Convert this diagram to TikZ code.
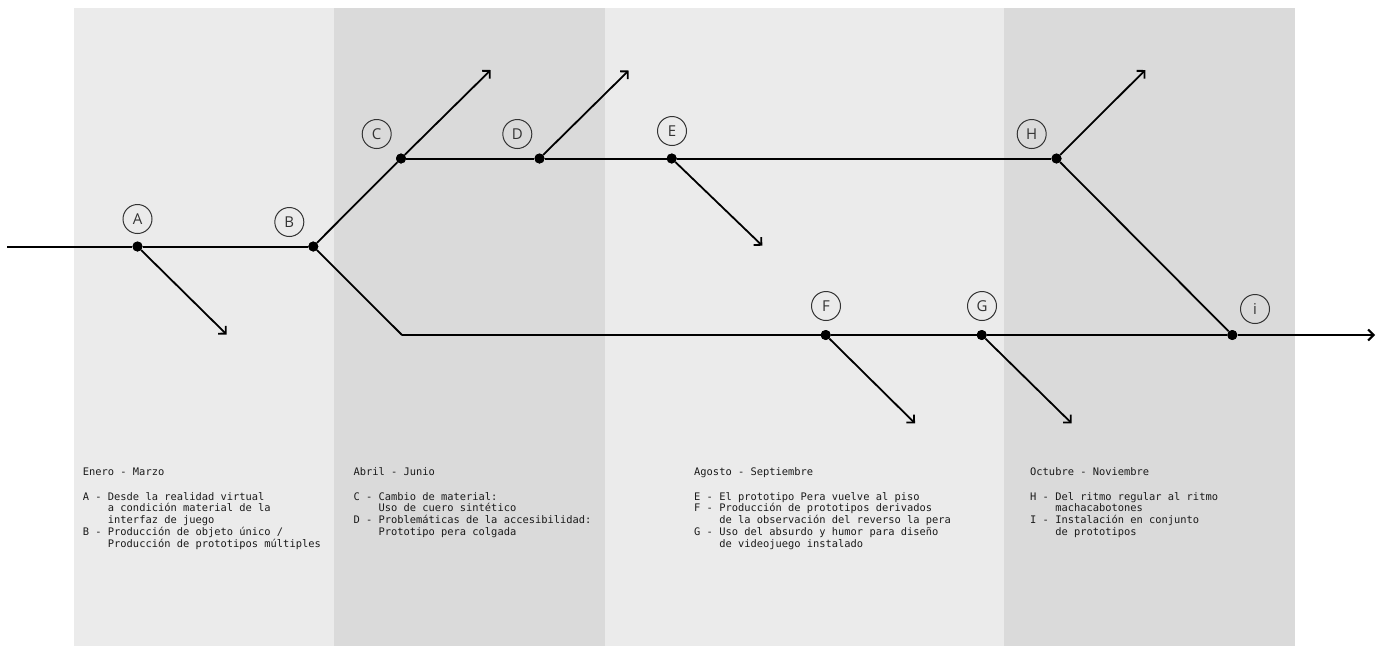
\documentclass[tikz,border=0pt]{standalone}
\usepackage{fontspec}
\setmonofont{DejaVu Sans Mono}
\newfontfamily\tagfont{Open Sans}
\usetikzlibrary{arrows.meta}
\definecolor{bandlight}{HTML}{EBEBEB}
\definecolor{banddark}{HTML}{DADADA}
\definecolor{ink}{HTML}{1A1A1A}
\definecolor{tagink}{HTML}{333333}
\begin{document}
\begin{tikzpicture}[x=1pt,y=-1pt,
  dot/.style={circle,fill=black,inner sep=0pt,minimum size=10pt},
  tag/.style={circle,draw=tagink,line width=1pt,inner sep=0pt,minimum size=29pt,
    text=tagink,font=\tagfont\fontsize{15}{15}\selectfont},
  spine/.style={line width=2pt,draw=black},
  branch/.style={line width=1.8pt,draw=black},
  tip/.style={-{Straight Barb[length=5.5pt,width=11pt]}},
  notes/.style={anchor=base west,inner sep=0pt,text=ink,
    font=\ttfamily\fontsize{10.4}{11.8}\selectfont}]

\useasboundingbox (0,0) rectangle (1380,646);

% quarter bands
\fill[bandlight] (74,8) rectangle (334,646);
\fill[banddark] (334,8) rectangle (605,646);
\fill[bandlight] (605,8) rectangle (1004,646);
\fill[banddark] (1004,8) rectangle (1295,646);

% milestones
\node[dot] (A) at (137.5,246.5) {};
\node[dot] (B) at (313.3,246.5) {};
\node[dot] (C) at (401,158.5) {};
\node[dot] (D) at (539.5,158.5) {};
\node[dot] (E) at (671.7,158.5) {};
\node[dot] (H) at (1056.5,158.5) {};
\node[dot] (F) at (825.7,335) {};
\node[dot] (G) at (981.7,335) {};
\node[dot] (I) at (1232.3,335) {};

\coordinate (start) at (7,246.5);
\coordinate (bend) at (402,335);
\coordinate (end) at (1375,335);
\coordinate (tA) at (226.7,334.5);
\coordinate (tC) at (490.7,70);
\coordinate (tD) at (628.7,70.5);
\coordinate (tE) at (762.3,245.7);
\coordinate (tF) at (915,423.3);
\coordinate (tG) at (1071.7,423.3);
\coordinate (tH) at (1145.3,70);

% timeline
\draw[spine] (start) -- (A) -- (B);
\draw[branch] (B) -- (C);
\draw[spine] (C) -- (D) -- (E) -- (H);
\draw[branch,line cap=round] (B) -- (bend);
\draw[spine] (bend) -- (F) -- (G) -- (I);
\draw[spine,tip] (I) -- (end);
\draw[branch] (H) -- (I);

% offshoots
\draw[branch,tip] (A) -- (tA);
\draw[branch,tip] (C) -- (tC);
\draw[branch,tip] (D) -- (tD);
\draw[branch,tip] (E) -- (tE);
\draw[branch,tip] (F) -- (tF);
\draw[branch,tip] (G) -- (tG);
\draw[branch,tip] (H) -- (tH);

% redraw dots on top
\foreach \p in {A,B,C,D,E,F,G,H,I} \fill (\p) circle (5pt);

% letter tags
\node[tag] (lA) at (137.5,219) {A};
\node[tag] (lB) at (289.3,222) {B};
\node[tag] (lC) at (376.7,134) {C};
\node[tag] (lD) at (517.3,134) {D};
\node[tag] (lE) at (672,131) {E};
\node[tag] (lF) at (826,306) {F};
\node[tag] (lG) at (982,306) {G};
\node[tag] (lH) at (1031.7,134) {H};
\node[tag] (lI) at (1255,309) {i};

% period notes
\node[notes] (n1) at (82.7,475) {\begin{tabular}[t]{@{}l@{}}
Enero - Marzo\\[13.3pt]
A - Desde la realidad virtual\\
\hphantom{A - }a condición material de la\\
\hphantom{A - }interfaz de juego\\
B - Producción de objeto único /\\
\hphantom{B - }Producción de prototipos múltiples
\end{tabular}};

\node[notes] (n2) at (353.3,475) {\begin{tabular}[t]{@{}l@{}}
Abril - Junio\\[13.3pt]
C - Cambio de material:\\
\hphantom{C - }Uso de cuero sintético\\
D - Problemáticas de la accesibilidad:\\
\hphantom{D - }Prototipo pera colgada
\end{tabular}};

\node[notes] (n3) at (694,475) {\begin{tabular}[t]{@{}l@{}}
Agosto - Septiembre\\[13.3pt]
E - El prototipo Pera vuelve al piso\\
F - Producción de prototipos derivados\\
\hphantom{F - }de la observación del reverso la pera\\
G - Uso del absurdo y humor para diseño\\
\hphantom{G - }de videojuego instalado
\end{tabular}};

\node[notes] (n4) at (1030,475) {\begin{tabular}[t]{@{}l@{}}
Octubre - Noviembre\\[13.3pt]
H - Del ritmo regular al ritmo\\
\hphantom{H - }machacabotones\\
I - Instalación en conjunto\\
\hphantom{I - }de prototipos
\end{tabular}};
\end{tikzpicture}
\end{document}
